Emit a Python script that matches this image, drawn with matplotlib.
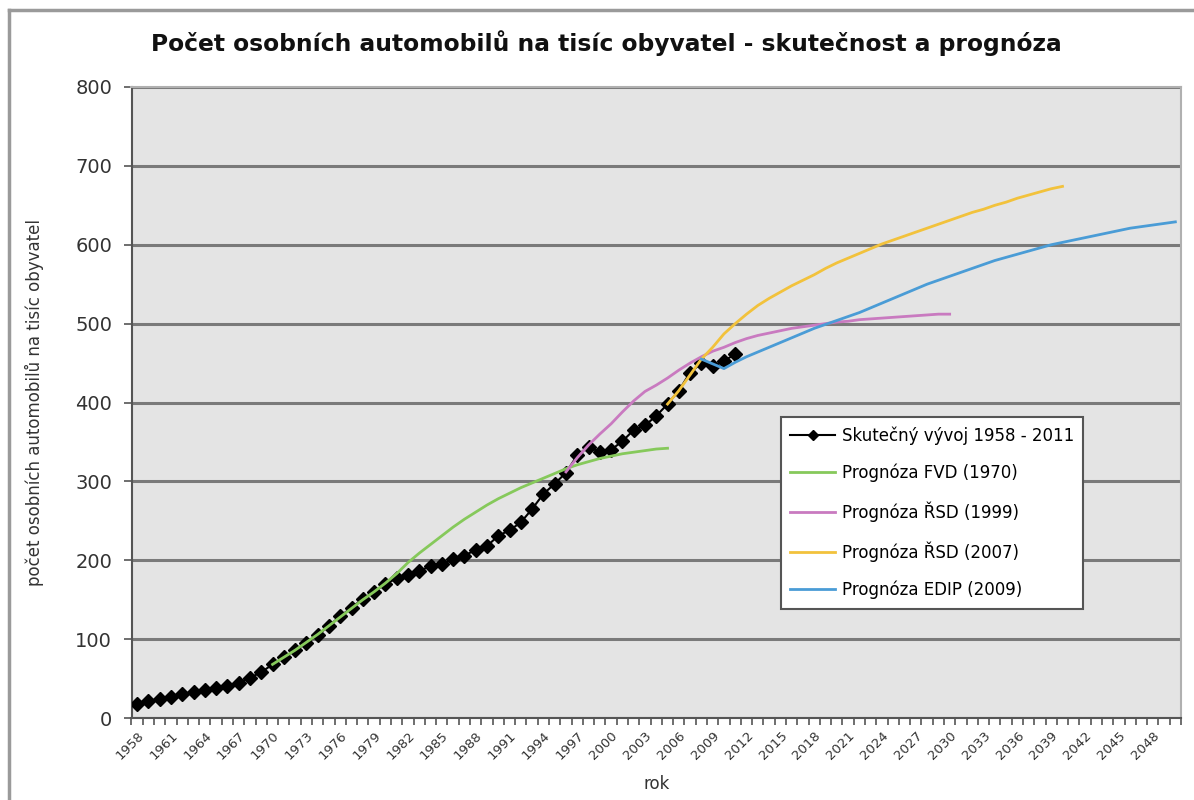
import matplotlib.pyplot as plt
from matplotlib.lines import Line2D
import numpy as np

# roky na ose x
years = list(range(1958, 2051))

# Skutečný vývoj 1958 - 2011
actual_years = list(range(1958, 2012))
actual = [18, 21, 24, 27, 30, 33, 35, 38, 41, 45,
          51, 58, 68, 77, 86, 95, 105, 117, 129, 140,
          151, 160, 170, 177, 181, 186, 193, 195, 201, 206,
          213, 218, 231, 238, 248, 265, 284, 297, 311, 333,
          344, 337, 340, 351, 365, 371, 383, 398, 415, 438,
          450, 446, 453, 461]

# Prognóza FVD (1970)
fvd_years = list(range(1970, 2006))
fvd = [68, 77, 86, 96, 106, 117, 128, 139, 150, 160,
       171, 183, 197, 209, 220, 231, 242, 252, 261, 270,
       278, 285, 292, 298, 304, 310, 316, 321, 325, 329,
       332, 335, 337, 339, 341, 342]

# Prognóza ŘSD (1999)
rsd99_years = list(range(1996, 2031))
rsd99 = [312, 330, 346, 360, 373, 388, 402, 414, 422, 431,
         441, 450, 458, 465, 470, 476, 481, 485, 488, 491,
         494, 496, 498, 500, 502, 503, 505, 506, 507, 508,
         509, 510, 511, 512, 512]

# Prognóza ŘSD (2007)
rsd07_years = list(range(2005, 2041))
rsd07 = [398, 415, 435, 455, 470, 487, 500, 512, 523, 532,
         540, 548, 555, 562, 570, 577, 583, 589, 595, 601,
         606, 611, 616, 621, 626, 631, 636, 641, 645, 650,
         654, 659, 663, 667, 671, 674]

# Prognóza EDIP (2009)
edip_years = list(range(2008, 2051))
edip = [455, 449, 443, 451, 458, 464, 470, 476, 482, 488,
        494, 499, 504, 509, 514, 520, 526, 532, 538, 544,
        550, 555, 560, 565, 570, 575, 580, 584, 588, 592,
        596, 600, 603, 606, 609, 612, 615, 618, 621, 623,
        625, 627, 629]

labels = ['Skutečný vývoj 1958 - 2011', 'Prognóza FVD (1970)', 'Prognóza ŘSD (1999)',
          'Prognóza ŘSD (2007)', 'Prognóza EDIP (2009)']
colors = ['black', '#86c95b', '#c97ac0', '#f2c23c', '#4a9cd6']

fig = plt.figure(figsize=(11.94, 8), dpi=100)
ax = fig.add_axes([131.5 / 1194, 1 - 718 / 800, (1181 - 131.5) / 1194, (718 - 87) / 800])
ax.set_facecolor('#e4e4e4')

ax.plot(actual_years, actual, color=colors[0], lw=1.5, marker='D', ms=7, zorder=3)
ax.plot(fvd_years, fvd, color=colors[1], lw=2, zorder=4)
ax.plot(rsd99_years, rsd99, color=colors[2], lw=2, zorder=4)
ax.plot(rsd07_years, rsd07, color=colors[3], lw=2, zorder=4)
ax.plot(edip_years, edip, color=colors[4], lw=2, zorder=4)

ax.set_xlim(years[0] - 0.5, years[-1] + 0.5)
ax.set_ylim(0, 800)
ax.set_yticks(range(0, 801, 100))
ax.yaxis.grid(True, color='#7a7a7a', lw=2.2)
ax.set_axisbelow(True)

ax.set_xticks(years[::3])
ax.set_xticklabels([str(y) for y in years[::3]], rotation=45, ha='right',
                   rotation_mode='anchor', fontsize=9.5, color='#333333')
ax.set_xticks(np.arange(years[0] - 0.5, years[-1] + 1), minor=True)
ax.tick_params(axis='x', which='major', length=0, pad=8)
ax.tick_params(axis='x', which='minor', length=5, width=1.2, color='#555555', direction='out')
ax.tick_params(axis='y', length=6, width=1.2, color='#555555', labelsize=14,
               labelcolor='#333333', pad=8)

for side in ['top', 'right']:
    ax.spines[side].set_color('#b0b0b0')
    ax.spines[side].set_linewidth(1.5)
for side in ['left', 'bottom']:
    ax.spines[side].set_color('#555555')
    ax.spines[side].set_linewidth(1.5)

ax.set_xlabel('rok', fontsize=12, color='#333333', labelpad=9)
ax.set_ylabel('počet osobních automobilů na tisíc obyvatel', fontsize=12,
              color='#333333', labelpad=22)

fig.text(0.508, 1 - 43 / 800, 'Počet osobních automobilů na tisíc obyvatel - skutečnost a prognóza',
         ha='center', va='center', fontsize=16.8, fontweight='bold', color='#111111')

handles = [Line2D([], [], color=colors[0], lw=1.5, marker='D', ms=5)]
handles += [Line2D([], [], color=c, lw=2) for c in colors[1:]]
leg = ax.legend(handles, labels, loc='upper left', bbox_to_anchor=(781 / 1194, 1 - 417 / 800),
                bbox_transform=fig.transFigure, fontsize=12, frameon=True, fancybox=False,
                handlelength=2.7, handletextpad=0.4, labelspacing=1.15, borderpad=0.55,
                borderaxespad=0)
leg.get_frame().set_edgecolor('#555555')
leg.get_frame().set_linewidth(1.5)
leg.get_frame().set_facecolor('white')
leg.get_frame().set_alpha(1)

# rámeček grafu
fig.add_artist(Line2D([9 / 1194, 9 / 1194], [0, 1 - 10 / 800], transform=fig.transFigure,
                      color='#9a9a9a', lw=2.5))
fig.add_artist(Line2D([9 / 1194, 1], [1 - 10 / 800, 1 - 10 / 800], transform=fig.transFigure,
                      color='#9a9a9a', lw=2.5))

fig.savefig('out.png', dpi=100)
